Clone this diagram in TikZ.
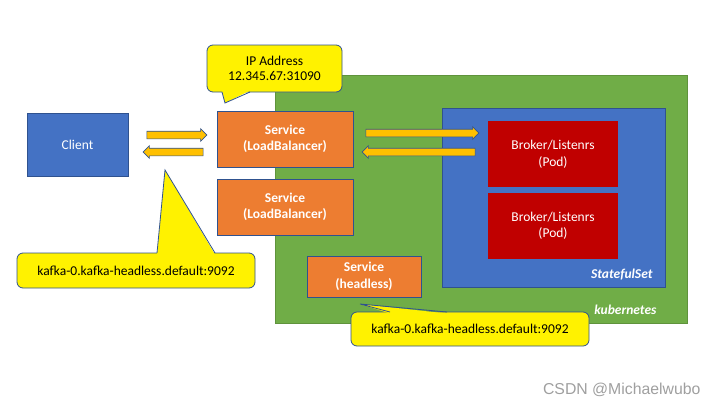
\documentclass[tikz,border=0pt]{standalone}
\usepackage{fontspec}
\setmainfont{Carlito}
\newfontfamily\markfont{Liberation Sans}
\usetikzlibrary{shapes.arrows,calc}
\definecolor{kgreen}{HTML}{70AD47}
\definecolor{kblue}{HTML}{4472C4}
\definecolor{korange}{HTML}{ED7D31}
\definecolor{kred}{HTML}{C00000}
\definecolor{kgold}{HTML}{FFC000}
\definecolor{kedge}{HTML}{2F528F}
\newcommand{\pointer}[4]{\fill[yellow] ($(#1)+(#4)$) -- (#3) -- ($(#2)+(#4)$) -- cycle;
	\draw[kedge,line width=0.8pt] (#1) -- (#3) -- (#2)}

\begin{document}
\begin{tikzpicture}[x=1pt,y=-1pt,
	box/.style={draw=kedge,line width=0.8pt,text=white,align=center,inner sep=0pt,
		font=\fontsize{13.5}{16.5}\selectfont},
	svc/.style={box,fill=korange,font=\fontsize{13.5}{16.5}\selectfont\bfseries},
	pod/.style={box,fill=kred,draw=none,minimum width=130pt,minimum height=66pt},
	note/.style={box,fill=yellow,text=black,rounded corners=6pt},
	barrow/.style={single arrow,fill=kgold,draw=kedge,line width=0.6pt,inner sep=3.5pt,
		single arrow head extend=2.5pt},
	tag/.style={text=white,font=\fontsize{13.5}{16}\selectfont\bfseries\itshape,anchor=east}]
\useasboundingbox (0,0) rectangle (720,405);
% cluster
\node[box,fill=kgreen,draw=kgreen!85!black,minimum width=412pt,minimum height=248pt] (k8s) at (481,199) {};
\node[tag] (k8slabel) at (660,310) {kubernetes};
\node[box,fill=kblue,minimum width=223pt,minimum height=179pt] (sts) at (553.5,197.5) {};
\node[tag] (stslabel) at (656,275) {StatefulSet};
	\node[pod] (pod1) at (553,154) {Broker/Listenrs\\(Pod)};
	\node[pod] (pod2) at (553,225.5) {Broker/Listenrs\\(Pod)};
%
\node[box,fill=kblue,minimum width=101pt,minimum height=63pt] (client) at (77.5,144.5) {Client};
\node[svc,minimum width=136pt,minimum height=56pt] (lb1) at (285,139) {Service\\(LoadBalancer)};
\node[svc,minimum width=136pt,minimum height=56pt] (lb2) at (285,207) {Service\\(LoadBalancer)};
\node[svc,minimum width=114pt,minimum height=41pt] (hl) at (364,276.5) {Service\\(headless)};
% arrows
\node[barrow,minimum height=60pt] (in1) at (175,135) {};
\node[barrow,minimum height=60pt,shape border rotate=180] (out1) at (175,152) {};
\node[barrow,minimum height=113pt] (in2) at (420.5,133) {};
\node[barrow,minimum height=113pt,shape border rotate=180] (out2) at (420.5,152) {};
% notes
\node[note,minimum width=135pt,minimum height=47pt,font=\fontsize{13.5}{14.5}\selectfont] (ip) at (274.5,68.5) {IP Address\\12.345.67:31090};
	\pointer{222,92}{250,92}{225,103}{0,-1.5};
\node[note,minimum width=238pt,minimum height=35pt] (dns1) at (136,270.5) {kafka-0.kafka-headless.default:9092};
	\pointer{157,253}{215,253}{165,170}{0,1.5};
\node[note,minimum width=238pt,minimum height=34pt] (dns2) at (470,329) {kafka-0.kafka-headless.default:9092};
	\pointer{390,312}{447,312}{360,304}{0,1.5};
%
\node[text=gray!75,font=\markfont\fontsize{15.8}{18}\selectfont,anchor=east] (mark) at (704,390) {CSDN @Michaelwubo};
\end{tikzpicture}
\end{document}
